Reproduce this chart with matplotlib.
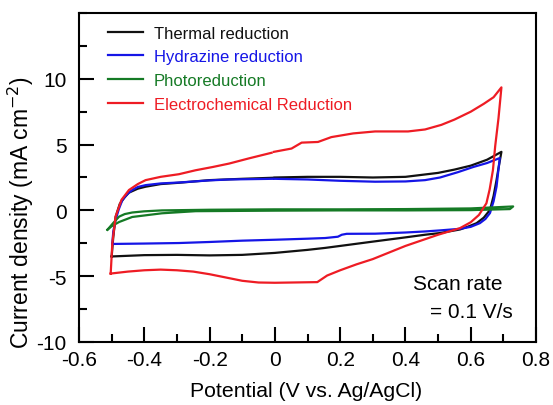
import numpy as np
import matplotlib
matplotlib.use("Agg")
import matplotlib.pyplot as plt
from matplotlib.ticker import MultipleLocator

plt.rcParams['font.family'] = ['Liberation Sans', 'DejaVu Sans']

nan = np.nan

# Thermal reduction (closed CV loop: forward branch, then reverse branch)
thermal_x = [-0.500, -0.495, -0.488, -0.475, -0.460, -0.447, -0.420, -0.396, -0.350, -0.294,
             -0.200, -0.100, -0.006, -0.003, 0.000, 0.100, 0.200, 0.300, 0.400, 0.500, 0.550, 0.600,
             0.650, 0.694,
             0.685, 0.679, 0.670, 0.659, 0.640, 0.618, 0.590, 0.567, 0.506, 0.460, 0.400,
             0.307, 0.200, 0.154, 0.100, 0.000, -0.100, -0.200, -0.300, -0.400, -0.500]
thermal_y = [-3.50, -2.00, -0.50, 0.50, 1.00, 1.35, 1.65, 1.80, 2.00, 2.10,
             2.30, 2.40, 2.48, nan, 2.50, 2.55, 2.55, 2.50, 2.55, 2.85, 3.10, 3.40,
             3.85, 4.45,
             3.20, 2.30, 1.10, 0.04, -0.55, -0.97, -1.25, -1.45, -1.72, -1.85, -2.05,
             -2.35, -2.70, -2.85, -3.00, -3.23, -3.38, -3.42, -3.38, -3.40, -3.50]

# Hydrazine reduction
hydrazine_x = [-0.498, -0.495, -0.488, -0.478, -0.467, -0.452, -0.437, -0.420, -0.396, -0.350,
               -0.294, -0.200, -0.140, -0.006, -0.003, 0.000, 0.100, 0.200, 0.307, 0.400, 0.460,
               0.506, 0.560, 0.608, 0.650, 0.689,
               0.684, 0.679, 0.670, 0.659, 0.645, 0.628, 0.600, 0.567, 0.506, 0.460, 0.400,
               0.307, 0.220, 0.205, 0.193, 0.154, 0.100, 0.000, -0.100, -0.200, -0.294,
               -0.400, -0.498]
hydrazine_y = [-2.50, -1.60, -0.72, 0.10, 0.80, 1.25, 1.55, 1.78, 1.92, 2.05,
               2.12, 2.28, 2.35, 2.40, nan, 2.40, 2.35, 2.25, 2.18, 2.20, 2.30,
               2.50, 2.90, 3.30, 3.60, 3.98,
               2.90, 1.80, 0.70, -0.20, -0.65, -0.97, -1.25, -1.40, -1.52, -1.60, -1.68,
               -1.77, -1.78, -1.85, -2.00, -2.10, -2.15, -2.23, -2.30, -2.40, -2.48,
               -2.52, -2.55]

# Photoreduction
photo_x = [-0.513, -0.495, -0.477, -0.460, -0.437, -0.400, -0.346, -0.200, 0.000, 0.200,
           0.400, 0.600, 0.730,
           0.720, 0.600, 0.400, 0.200, 0.000, -0.243, -0.346, -0.437, -0.477, -0.500, -0.513]
photo_y = [-1.47, -0.95, -0.47, -0.28, -0.16, -0.07, 0.00, 0.05, 0.08, 0.08,
           0.10, 0.15, 0.30,
           0.10, 0.02, 0.00, 0.00, -0.02, -0.06, -0.22, -0.50, -0.88, -1.20, -1.47]

# Electrochemical reduction
electro_x = [-0.503, -0.498, -0.488, -0.470, -0.447, -0.420, -0.396, -0.350, -0.294, -0.243,
             -0.190, -0.140, -0.080, -0.010, -0.007, -0.003, 0.051, 0.082, 0.132, 0.173, 0.240,
             0.307, 0.408, 0.460, 0.510, 0.550, 0.600, 0.640, 0.670, 0.694,
             0.685, 0.675, 0.668, 0.658, 0.648, 0.625, 0.600, 0.567, 0.500, 0.400, 0.300,
             0.250, 0.200, 0.160, 0.130, 0.000, -0.050, -0.100, -0.150, -0.200, -0.250,
             -0.300, -0.350, -0.400, -0.450, -0.503]
electro_y = [-4.80, -2.50, -0.47, 0.80, 1.55, 2.00, 2.30, 2.55, 2.75, 3.05,
             3.30, 3.56, 3.95, 4.38, nan, 4.45, 4.70, 5.15, 5.20, 5.57, 5.85,
             6.00, 6.00, 6.15, 6.50, 6.90, 7.50, 8.10, 8.60, 9.35,
             7.00, 4.90, 3.06, 1.60, 0.54, -0.35, -0.90, -1.35, -1.85, -2.70, -3.70,
             -4.10, -4.55, -4.95, -5.45, -5.50, -5.48, -5.35, -5.10, -4.85, -4.65,
             -4.55, -4.50, -4.55, -4.65, -4.80]

labels = ['Thermal reduction', 'Hydrazine reduction', 'Photoreduction', 'Electrochemical Reduction']
colors = ['#111111', '#1515e6', '#157a25', '#ee1c24']

x_ticks = [-0.6, -0.4, -0.2, 0, 0.2, 0.4, 0.6, 0.8]
x_ticklabels = ['-0.6', '-0.4', '-0.2', '0', '0.2', '0.4', '0.6', '0.8']
y_ticks = [-10, -5, 0, 5, 10]
y_ticklabels = ['-10', '-5', '0', '5', '10']

fig = plt.figure(figsize=(5.53, 4.06), dpi=100)
ax = fig.add_axes([0.1429, 0.1552, 0.8264, 0.8103])

series = [(thermal_x, thermal_y), (hydrazine_x, hydrazine_y), (photo_x, photo_y), (electro_x, electro_y)]
for (xs, ys), lab, c in zip(series, labels, colors):
    ax.plot(xs, ys, color=c, lw=1.6, label=lab, solid_joinstyle='round')

ax.set_xlim(-0.6, 0.8)
ax.set_ylim(-10, 15)
ax.set_xticks(x_ticks)
ax.set_xticklabels(x_ticklabels)
ax.set_yticks(y_ticks)
ax.set_yticklabels(y_ticklabels)
ax.xaxis.set_minor_locator(MultipleLocator(0.1))
ax.yaxis.set_minor_locator(MultipleLocator(2.5))
ax.tick_params(which='both', direction='in', top=False, right=False, width=1.5, labelsize=15)
ax.tick_params(which='major', length=11)
ax.tick_params(which='minor', length=6)
ax.tick_params(axis='x', pad=6)
ax.tick_params(axis='y', pad=9)
for s in ax.spines.values():
    s.set_linewidth(1.5)

ax.set_xlabel('Potential (V vs. Ag/AgCl)', fontsize=15.3)
ax.set_ylabel('Current density (mA cm$^{-2}$)', fontsize=16.5)
ax.xaxis.set_label_coords(0.498, -0.118)
ax.yaxis.set_label_coords(-0.094, 0.395)

leg = ax.legend(loc='upper left', bbox_to_anchor=(0.063, 0.962), frameon=False,
                fontsize=12, handlelength=2.1, handletextpad=0.65, labelspacing=0.52,
                borderpad=0, borderaxespad=0, labelcolor='linecolor')

ax.text(0.731, 0.179, 'Scan rate', transform=ax.transAxes, fontsize=15, ha='left', va='center')
ax.text(0.768, 0.094, '= 0.1 V/s', transform=ax.transAxes, fontsize=15, ha='left', va='center')

fig.savefig('out.png', dpi=100)
